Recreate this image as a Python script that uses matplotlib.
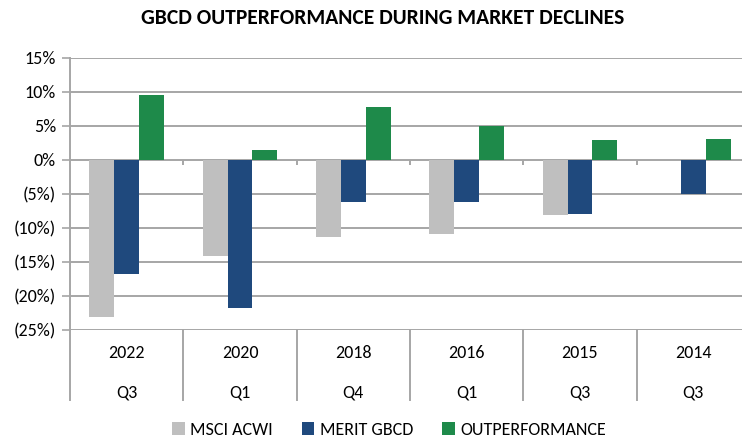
import matplotlib
matplotlib.use("Agg")
import matplotlib.pyplot as plt
from matplotlib.patches import Patch
import numpy as np

plt.rcParams['font.family'] = ['Carlito', 'Lato', 'DejaVu Sans']

years = ["2022", "2020", "2018", "2016", "2015", "2014"]
quarters = ["Q3", "Q1", "Q4", "Q1", "Q3", "Q3"]
msci_acwi = [-23.1, -14.1, -11.3, -10.9, -8.1, 0.0]
merit_gbcd = [-16.7, -21.7, -6.2, -6.2, -7.9, -5.0]
outperformance = [9.5, 1.5, 7.8, 5.0, 2.9, 3.1]
series_names = ["MSCI ACWI", "MERIT GBCD", "OUTPERFORMANCE"]
colors = ["#BFBFBF", "#1F497D", "#1E8A4A"]
yticks = [-25, -20, -15, -10, -5, 0, 5, 10, 15]

def fmt(v):
    return f"({abs(v)}%)" if v < 0 else f"{v}%"

W, H = 742, 438
fig = plt.figure(figsize=(W/100, H/100), dpi=100)
left, right, top, bottom = 70, 750, 58, 330
ax = fig.add_axes([left/W, (H-bottom)/H, (right-left)/W, (bottom-top)/H])

n = len(years)
x = np.arange(n) + 0.5
bw = 0.22
grid_c = "#A6A6A6"
fs = 13
for yv in yticks:
    ax.axhline(yv, color=grid_c, lw=1.4, zorder=1)
for i, (vals, c) in enumerate(zip([msci_acwi, merit_gbcd, outperformance], colors)):
    ax.bar(x + (i-1)*bw, vals, width=bw, color=c, linewidth=0, zorder=3)

ax.set_xlim(0, n)
ax.set_ylim(-25, 15)
ax.set_yticks(yticks)
ax.set_yticklabels([fmt(v) for v in yticks], fontsize=fs)
ax.tick_params(axis='y', length=6, color=grid_c, width=1.2, pad=4)
ax.set_xticks([])
for s in ["top", "right", "bottom"]:
    ax.spines[s].set_visible(False)
ax.spines["left"].set_color(grid_c)
ax.spines["left"].set_linewidth(1.4)

# zero-line tick marks
ax.vlines(np.arange(1, n), -0.8, 0, color=grid_c, lw=1.4, zorder=2)
# category separators below axis
tr = ax.get_xaxis_transform()
ah = bottom - top
for b in range(0, n+1):
    ax.plot([b, b], [0, -70/ah], transform=tr, color=grid_c, lw=1.4, clip_on=False)
for xi, yr, q in zip(x, years, quarters):
    ax.text(xi, -23/ah, yr, transform=tr, ha='center', va='center', fontsize=fs)
    ax.text(xi, -62/ah, q, transform=tr, ha='center', va='center', fontsize=fs)

fig.text(383/W, 1-18/H, "GBCD OUTPERFORMANCE DURING MARKET DECLINES",
         ha='center', va='center', fontsize=15.5, fontweight='bold')

handles = [Patch(facecolor=c, edgecolor='none') for c in colors]
fig.legend(handles, series_names, loc='center', bbox_to_anchor=(389/W, 1-430/H),
           ncol=3, frameon=False, fontsize=fs, handlelength=0.7, handleheight=0.7,
           handletextpad=0.3, columnspacing=1.6)

fig.savefig("out.png", dpi=100)
